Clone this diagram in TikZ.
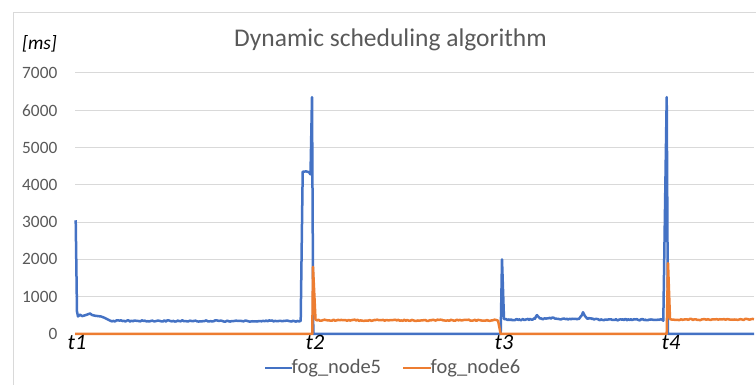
\documentclass[tikz,border=0pt]{standalone}
\usepackage{fontspec}
\setmainfont{Carlito}
\usepackage{tikz}
\usetikzlibrary{positioning,calc}
\definecolor{xlblue}{HTML}{4472C4}
\definecolor{xlorange}{HTML}{ED7D31}
\definecolor{xlgrid}{HTML}{D9D9D9}
\definecolor{xltext}{HTML}{595959}
\tikzstyle{gline}=[xlgrid,line width=1pt]
\tikzstyle{ticklbl}=[anchor=east,inner sep=0pt,text=xltext,font=\fontsize{17.3}{20}\selectfont]
\tikzstyle{tlbl}=[anchor=base,inner sep=0pt,text=black,font=\fontsize{22}{24}\selectfont\itshape]
\tikzstyle{legtxt}=[anchor=base west,inner sep=0pt,text=xltext,font=\fontsize{20.5}{24}\selectfont]
\tikzstyle{ser5}=[xlblue,line width=2.5pt,line join=round]
\tikzstyle{ser6}=[xlorange,line width=2.5pt,line join=round]

\begin{document}
\begin{tikzpicture}[x=1pt,y=1pt]
    \useasboundingbox (0,0) rectangle (756,385);
    \pgfmathsetseed{42}
    % chart area
    \draw[xlgrid] (13,-2) -- (13,373) -- (758,373);
    \node (ttl) [anchor=base,inner sep=0pt,text=xltext,font=\fontsize{25.5}{30}\selectfont] at (390.5,338) {Dynamic scheduling algorithm};
    \node (unit) [anchor=base,inner sep=0pt,text=black,font=\fontsize{19.4}{22}\selectfont\itshape] at (39.5,335) {[ms]};

    \begin{scope}[shift={(0,51)},y=0.037286pt]
    \draw[gline] (75,0) -- (754,0);
    \draw[gline] (75,1000) -- (754,1000);
    \draw[gline] (75,2000) -- (754,2000);
    \draw[gline] (75,3000) -- (754,3000);
    \draw[gline] (75,4000) -- (754,4000);
    \draw[gline] (75,5000) -- (754,5000);
    \draw[gline] (75,6000) -- (754,6000);
    \draw[gline] (75,7000) -- (754,7000);
    \node (y0) [ticklbl] at (57.5,0) {0};
    \node (y1000) [ticklbl] at (57.5,1000) {1000};
    \node (y2000) [ticklbl] at (57.5,2000) {2000};
    \node (y3000) [ticklbl] at (57.5,3000) {3000};
    \node (y4000) [ticklbl] at (57.5,4000) {4000};
    \node (y5000) [ticklbl] at (57.5,5000) {5000};
    \node (y6000) [ticklbl] at (57.5,6000) {6000};
    \node (y7000) [ticklbl] at (57.5,7000) {7000};

    % fog_node5
    \draw[ser5] (75.7,3050) -- (77,600) -- (78,470) -- (80,520) -- (82,480) -- (85,500) -- (88,530)
      -- (90,550) -- (92,510) -- (95,490) -- (98,480) -- (101,470) -- (104,440) -- (107,400) -- (110,360)
      -- plot[domain=112:299,samples=126] (\x,{350+18*rand})
      -- (300.7,350) -- (302.7,4350) -- (306,4360) -- (309,4340) -- (310.5,4280) -- (312,6350) -- (313.3,0)
      -- (500.7,0) -- (502,2000) -- (504,400)
      -- plot[domain=506:662,samples=157] (\x,{380+100/(1+((\x-537)/1.5)^2)+190/(1+((\x-583)/1.5)^2)+40/(1+((\x-552)/10)^2)+20/(1+((\x-590)/8)^2)+18*rand})
      -- (663.3,355) -- (666.7,6350) -- (668,0) -- (754,0);
    % fog_node6
    \draw[ser6] (75,0) -- (312.3,0) -- (313,1800) -- (315.5,390)
      -- plot[domain=317:496,samples=120] (\x,{368+18*rand})
      -- (498,360) -- (500.7,0) -- (666.7,0) -- (668,1900) -- (670,400)
      -- plot[domain=672:754,samples=56] (\x,{388+18*rand});
    \end{scope}

    \node (t1) [tlbl] at (77,35) {t1};
    \node (t2) [tlbl] at (315,35) {t2};
    \node (t3) [tlbl] at (504,35) {t3};
    \node (t4) [tlbl] at (671,35) {t4};

    % legend
    \node (leg5) [legtxt] at (291.5,11) {fog\_node5};
    \node (leg6) [legtxt] at (430.5,11) {fog\_node6};
    \coordinate (s5) at (265,17);
    \coordinate (s6) at (403,17);
    \draw[ser5] (s5) -- (s5 -| leg5.west);
    \draw[ser6] (s6) -- (s6 -| leg6.west);
\end{tikzpicture}
\end{document}
